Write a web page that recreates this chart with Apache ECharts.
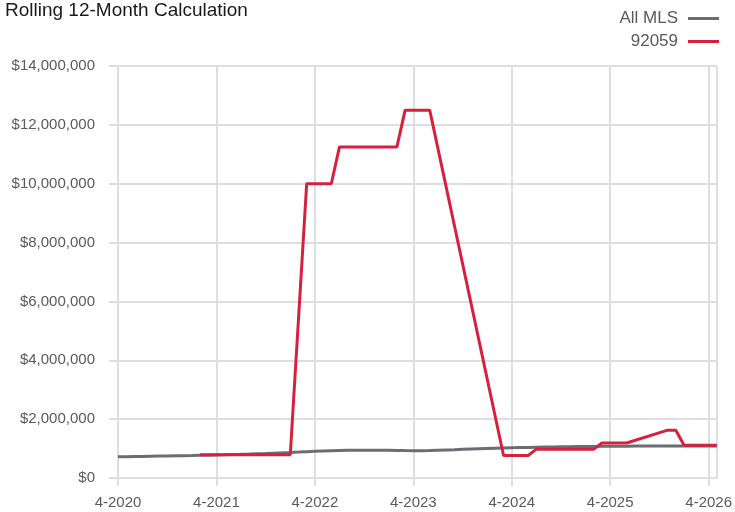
<!DOCTYPE html>
<html>
<head>
<meta charset="utf-8">
<title>Rolling 12-Month Calculation</title>
<script src="https://cdn.jsdelivr.net/npm/echarts@6/dist/echarts.min.js"></script>
<style>
  html, body { margin: 0; padding: 0; background: #ffffff; }
  #chart { width: 735px; height: 512px; }
</style>
</head>
<body>
<div id="chart"></div>
<script>
// Monthly periods, April 2020 through May 2026
const startYear = 2020;
const startMonth = 4;
const monthCount = 74;
const months = [];
for (let i = 0; i < monthCount; i++) {
  const m = (startMonth - 1 + i) % 12 + 1;
  const y = startYear + Math.floor((startMonth - 1 + i) / 12);
  months.push(m + '-' + y);
}

// Rolling 12-month median sale price, all MLS
const allMls = [
  720000, 724000, 729000, 734000, 739000, 744000, 749000, 754000, 759000, 764000, 770000, 776000,
  784000, 790000, 798000, 805000, 814000, 824000, 834000, 845000, 855000, 866000, 880000, 895000,
  910000, 920000, 929000, 935000, 940000, 944000, 945000, 945000, 944000, 940000, 935000, 931000,
  930000, 930000, 934000, 944000, 954000, 964000, 975000, 985000, 995000, 1004000, 1013000, 1021000,
  1029000, 1035000, 1040000, 1045000, 1050000, 1055000, 1060000, 1064000, 1068000, 1070000, 1073000, 1075000,
  1078000, 1080000, 1083000, 1084000, 1085000, 1086000, 1087000, 1088000, 1089000, 1090000, 1090000, 1090000,
  1091000, 1091000
];

// Rolling 12-month median sale price, ZIP 92059 (null = no sales in window)
const zip92059 = [
  null, null, null, null, null, null, null, null, null, null, 790000, 790000,
  790000, 790000, 790000, 790000, 790000, 790000, 790000, 790000, 790000, 790000, null, 10000000,
  10000000, 10000000, 10000000, 11250000, 11250000, 11250000, 11250000, 11250000, 11250000, 11250000, 11250000, 12500000,
  12500000, 12500000, 12500000, null, null, null, null, null, null, null, null, 765000,
  765000, 765000, 765000, 980000, 980000, 980000, 980000, 980000, 980000, 980000, 980000, 1190000,
  1190000, 1190000, 1190000, null, null, null, null, 1625000, 1625000, 1110000, 1110000, 1110000,
  1110000, 1110000
];

const yTicks = [0, 2000000, 4000000, 6000000, 8000000, 10000000, 12000000, 14000000];

const gridColor = '#dedede';
const labelColor = '#5a5a5a';
const fontFamily = '"Liberation Sans", Arial, Helvetica, sans-serif';
const lastIndex = months.length - 1;

const chart = echarts.init(document.getElementById('chart'), null, { renderer: 'canvas' });

chart.setOption({
  animation: false,
  backgroundColor: '#ffffff',
  textStyle: { fontFamily: fontFamily },
  title: {
    text: 'Rolling 12-Month Calculation',
    left: 5,
    top: 1,
    padding: 0,
    textStyle: { fontFamily: fontFamily, fontSize: 19, fontWeight: 'normal', color: '#1a1a1a' }
  },
  legend: {
    orient: 'vertical',
    right: 16,
    top: 10,
    padding: 0,
    align: 'right',
    itemWidth: 31,
    itemHeight: 3,
    itemGap: 6,
    icon: 'rect',
    textStyle: { fontFamily: fontFamily, fontSize: 17, color: labelColor, padding: [0, 5, 0, 0] },
    data: ['All MLS', '92059']
  },
  grid: { left: 118, right: 16, top: 66, bottom: 34, containLabel: false },
  xAxis: {
    type: 'category',
    data: months,
    boundaryGap: false,
    axisLine: { show: true, lineStyle: { color: gridColor, width: 2 } },
    axisTick: {
      show: true,
      length: 8,
      interval: (i) => i % 12 === 0,
      lineStyle: { color: gridColor, width: 2 }
    },
    axisLabel: {
      interval: (i) => i % 12 === 0,
      margin: 17,
      fontSize: 15,
      color: labelColor,
      fontFamily: fontFamily
    },
    splitLine: {
      show: true,
      interval: (i) => i % 12 === 0 || i === lastIndex,
      lineStyle: { color: gridColor, width: 2 }
    }
  },
  yAxis: {
    type: 'value',
    min: yTicks[0],
    max: yTicks[yTicks.length - 1],
    interval: yTicks[1] - yTicks[0],
    axisLine: { show: true, lineStyle: { color: gridColor, width: 2 } },
    axisTick: { show: true, length: 9, lineStyle: { color: gridColor, width: 2 } },
    axisLabel: {
      margin: 23,
      fontSize: 15,
      color: labelColor,
      fontFamily: fontFamily,
      formatter: (v) => '$' + v.toLocaleString('en-US')
    },
    splitLine: { show: true, lineStyle: { color: gridColor, width: 2 } }
  },
  series: [
    {
      name: 'All MLS',
      type: 'line',
      data: allMls,
      showSymbol: false,
      symbol: 'none',
      connectNulls: true,
      color: '#6c6d72',
      lineStyle: { color: '#6c6d72', width: 3 },
      z: 2
    },
    {
      name: '92059',
      type: 'line',
      data: zip92059,
      showSymbol: false,
      symbol: 'none',
      connectNulls: true,
      color: '#d6203e',
      lineStyle: { color: '#d6203e', width: 3 },
      z: 3
    }
  ]
});
</script>
</body>
</html>
